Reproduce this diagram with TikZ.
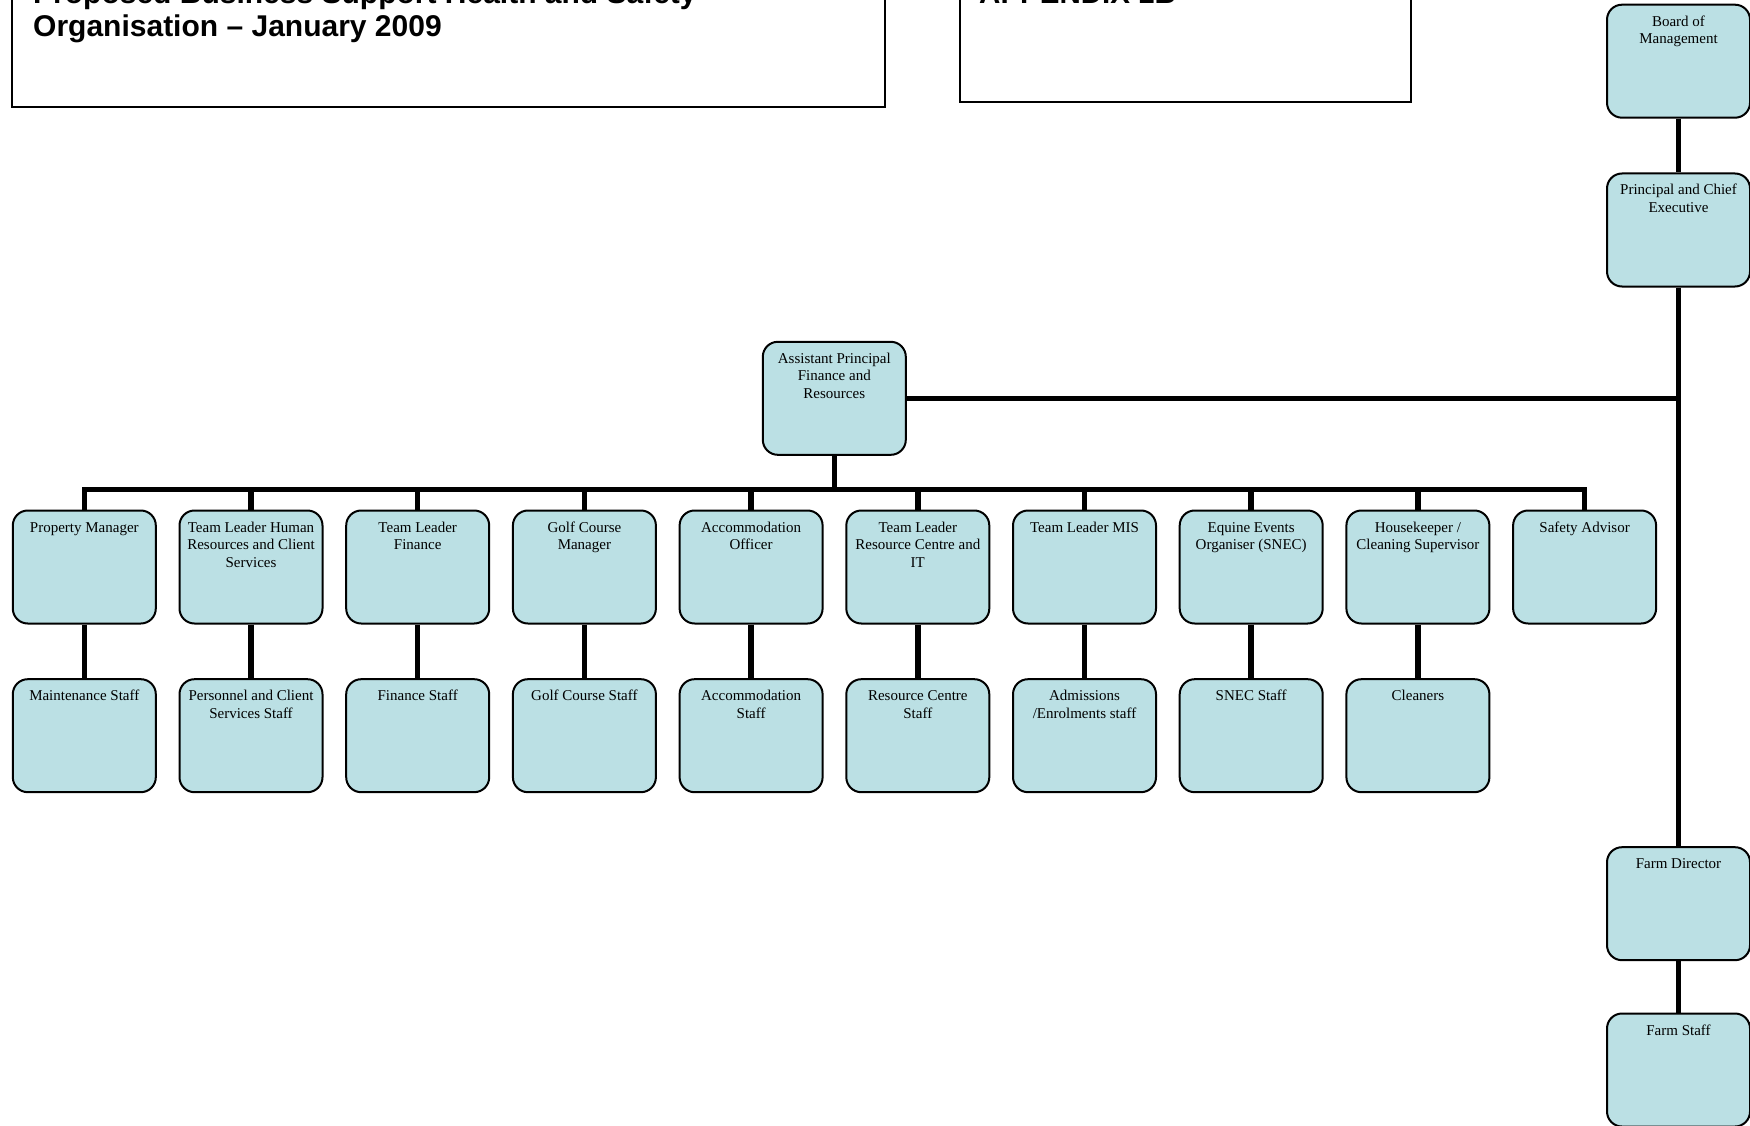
\documentclass[tikz,border=0pt]{standalone}
\usepackage{fontspec}
\setmainfont{Liberation Serif}
\newfontfamily\arialfont{Liberation Sans}
\definecolor{boxfill}{RGB}{187,224,228}
\newcommand\bxtext[1]{\parbox[c][113pt][t]{141pt}{\centering\rule{0pt}{21.5pt}#1\par}}
\tikzset{
  orgbox/.style={draw=black, line width=2pt, fill=boxfill, rounded corners=15pt,
    inner sep=0pt, minimum width=143pt, minimum height=113pt,
    font=\fontsize{15}{17.5}\selectfont},
  conn/.style={line width=5.5pt, line join=miter},
  framebox/.style={draw=black, line width=2pt, inner sep=0pt},
  titletext/.style={anchor=base west, inner sep=0pt, font=\arialfont\bfseries\fontsize{30}{33}\selectfont}
}
\begin{document}
\begin{tikzpicture}[x=1pt,y=-1pt]
\useasboundingbox (0,0) rectangle (1750,1126);
\clip (0,0) rectangle (1750,1126);
\fill[white] (0,0) rectangle (1750,1126);

% header frames
\node[framebox, minimum width=872.7pt, minimum height=157pt] (tframe) at (448.65,28.5) {};
\node[framebox, minimum width=450.6pt, minimum height=151.6pt] (aframe) at (1185.3,25.8) {};
\node[titletext] (t1) at (33,4) {Proposed Business Support Health and Safety};
\node[titletext] (t2) at (33,37) {Organisation – January 2009};
\node[titletext, font=\arialfont\bfseries\fontsize{29.5}{33}\selectfont] (app) at (979,4) {APPENDIX 1B};

% right column
\node[orgbox] (bm) at (1678.5,61.2) {\bxtext{Board of\\Management}};
\node[orgbox] (pc) at (1678.5,230) {\bxtext{Principal and Chief\\Executive}};
\node[orgbox] (fd) at (1678.5,903.7) {\bxtext{Farm Director}};
\node[orgbox] (fs) at (1678.5,1070) {\bxtext{Farm Staff}};

% assistant principal
\node[orgbox] (ap) at (834.3,398.3) {\bxtext{Assistant Principal\\Finance and\\Resources}};
\coordinate (bus) at (834.3,489.5);

% top row
\node[orgbox] (a1) at (84.3,567) {\bxtext{Property Manager}};
\node[orgbox] (a2) at (251,567) {\bxtext{Team Leader Human\\Resources and Client\\Services}};
\node[orgbox] (a3) at (417.7,567) {\bxtext{Team Leader\\Finance}};
\node[orgbox] (a4) at (584.4,567) {\bxtext{Golf Course\\Manager}};
\node[orgbox] (a5) at (751.1,567) {\bxtext{Accommodation\\Officer}};
\node[orgbox] (a6) at (917.8,567) {\bxtext{Team Leader\\Resource Centre and\\IT}};
\node[orgbox] (a7) at (1084.5,567) {\bxtext{Team Leader MIS}};
\node[orgbox] (a8) at (1251.2,567) {\bxtext{Equine Events\\Organiser (SNEC)}};
\node[orgbox] (a9) at (1417.9,567) {\bxtext{Housekeeper /\\Cleaning Supervisor}};
\node[orgbox] (a10) at (1584.6,567) {\bxtext{Safety Advisor}};

% bottom row
\node[orgbox] (b1) at (84.3,735.7) {\bxtext{Maintenance Staff}};
\node[orgbox] (b2) at (251,735.7) {\bxtext{Personnel and Client\\Services Staff}};
\node[orgbox] (b3) at (417.7,735.7) {\bxtext{Finance Staff}};
\node[orgbox] (b4) at (584.4,735.7) {\bxtext{Golf Course Staff}};
\node[orgbox] (b5) at (751.1,735.7) {\bxtext{Accommodation\\Staff}};
\node[orgbox] (b6) at (917.8,735.7) {\bxtext{Resource Centre\\Staff}};
\node[orgbox] (b7) at (1084.5,735.7) {\bxtext{Admissions\\/Enrolments staff}};
\node[orgbox] (b8) at (1251.2,735.7) {\bxtext{SNEC Staff}};
\node[orgbox] (b9) at (1417.9,735.7) {\bxtext{Cleaners}};

% connectors
\draw[conn] (bm.south) -- (pc.north);
\draw[conn] (pc.south) -- (fd.north);
\draw[conn] (fd.south) -- (fs.north);
\draw[conn] (ap.east) -- (ap.east -| pc.south);
\draw[conn] (ap.south) -- (bus);
\draw[conn] (a1.north) -- (a1.north |- bus) -- (a10.north |- bus) -- (a10.north);
\foreach \n in {a2,a3,a4,a5,a6,a7,a8,a9}{
  \draw[conn] (\n.north) -- (\n.north |- bus);
}
\foreach \i in {1,...,9}{
  \draw[conn] (a\i.south) -- (b\i.north);
}
\end{tikzpicture}
\end{document}
